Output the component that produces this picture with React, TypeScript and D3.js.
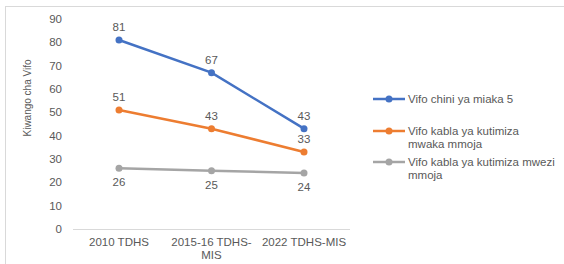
import { useEffect, useRef } from 'react'
import * as d3 from 'd3'

// chart data
const categories = ['2010 TDHS', '2015-16 TDHS-MIS', '2022 TDHS-MIS']
const xTickLines = [['2010 TDHS'], ['2015-16 TDHS-', 'MIS'], ['2022 TDHS-MIS']]
const seriesNames = [
  ['Vifo chini ya miaka 5'],
  ['Vifo kabla ya kutimiza', 'mwaka mmoja'],
  ['Vifo kabla ya kutimiza mwezi', 'mmoja'],
]
const under5 = [81, 67, 43]
const infant = [51, 43, 33]
const neonatal = [26, 25, 24]
const yTicks = [0, 10, 20, 30, 40, 50, 60, 70, 80, 90]
const colors = ['#4472C4', '#ED7D31', '#A5A5A5']
const labelAbove = [true, true, false]

const W = 564
const H = 264

export default function App() {
  const ref = useRef<SVGSVGElement>(null)

  useEffect(() => {
    const svg = d3.select(ref.current)
    svg.selectAll('*').remove()

    // outer frame (only top + left edges visible in the crop)
    svg.append('rect')
      .attr('x', 5.5).attr('y', 6.5)
      .attr('width', W + 10).attr('height', H + 10)
      .attr('fill', '#fff').attr('stroke', '#d9d9d9')

    const x = d3.scalePoint<string>().domain(categories).range([119, 304])
    const y = d3.scaleLinear().domain([0, 90]).range([229, 19])

    const font = 'Liberation Sans, Arial, sans-serif'
    const txt = '#595959'

    // baseline
    svg.append('line')
      .attr('x1', 73).attr('x2', 350)
      .attr('y1', y(0) + 0.5).attr('y2', y(0) + 0.5)
      .attr('stroke', '#d9d9d9')

    // y tick labels
    svg.append('g')
      .selectAll('text')
      .data(yTicks)
      .join('text')
      .attr('x', 62)
      .attr('y', d => y(d))
      .attr('dy', '0.35em')
      .attr('text-anchor', 'end')
      .style('font', `11.5px ${font}`)
      .attr('fill', txt)
      .text(d => d)

    // y axis title
    svg.append('text')
      .attr('transform', `translate(31,${98}) rotate(-90)`)
      .attr('text-anchor', 'middle')
      .style('font', `11.5px ${font}`)
      .attr('textLength', 77)
      .attr('lengthAdjust', 'spacingAndGlyphs')
      .attr('fill', txt)
      .text('Kiwango cha Vifo')

    // x tick labels
    const xt = svg.append('g')
      .selectAll('text')
      .data(categories)
      .join('text')
      .attr('x', d => x(d)!)
      .attr('y', 246)
      .attr('text-anchor', 'middle')
      .style('font', `11.5px ${font}`)
      .attr('fill', txt)
    xt.each(function (d, i) {
      xTickLines[i].forEach((ln, j) => {
        d3.select(this).append('tspan')
          .attr('x', x(d)!)
          .attr('dy', j === 0 ? 0 : 13)
          .text(ln)
      })
    })

    const allSeries = [under5, infant, neonatal]
    const line = d3.line<number>()
      .x((_, i) => x(categories[i])!)
      .y(d => y(d))

    allSeries.forEach((vals, si) => {
      const g = svg.append('g')
      g.append('path')
        .datum(vals)
        .attr('d', line)
        .attr('fill', 'none')
        .attr('stroke', colors[si])
        .attr('stroke-width', 2.5)
        .attr('stroke-linecap', 'round')
      g.selectAll('circle')
        .data(vals)
        .join('circle')
        .attr('cx', (_, i) => x(categories[i])!)
        .attr('cy', d => y(d))
        .attr('r', 3.5)
        .attr('fill', colors[si])
      g.selectAll('text')
        .data(vals)
        .join('text')
        .attr('x', (_, i) => x(categories[i])!)
        .attr('y', d => labelAbove[si] ? y(d) - 9 : y(d) + 18)
        .attr('text-anchor', 'middle')
        .style('font', `11.5px ${font}`)
        .attr('fill', txt)
        .text(d => d)
    })

    // legend
    const legY = [99, 131, 162]
    seriesNames.forEach((names, i) => {
      const lg = svg.append('g').attr('transform', `translate(373,${legY[i]})`)
      lg.append('line')
        .attr('x1', 0).attr('x2', 32)
        .attr('stroke', colors[i]).attr('stroke-width', 2.5)
      lg.append('circle').attr('cx', 16).attr('r', 3.5).attr('fill', colors[i])
      const t = lg.append('text')
        .attr('x', 35).attr('y', 0)
        .style('font', `11.5px ${font}`)
        .attr('fill', txt)
      names.forEach((n, j) => {
        t.append('tspan').attr('x', 35).attr('dy', j === 0 ? '0.35em' : 13).text(n)
      })
    })
  }, [])

  return (
    <div style={{ position: 'absolute', left: 0, top: 0 }}>
      <svg ref={ref} width={W} height={H} style={{ display: 'block' }}></svg>
    </div>
  )
}
